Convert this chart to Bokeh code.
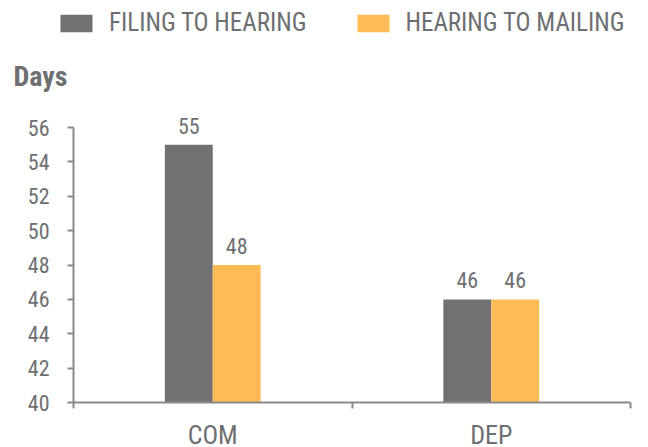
from bokeh.plotting import figure
from bokeh.models import (ColumnDataSource, FixedTicker, LinearAxis, Legend, LegendItem,
                          Range1d, LabelSet, Label)
from bokeh.core.properties import value
from bokeh.transform import dodge
from bokeh.embed import file_html
from bokeh.resources import INLINE

categories = ["COM", "DEP"]
filing_to_hearing = [55, 46]
hearing_to_mailing = [48, 46]
series_names = ["FILING TO HEARING", "HEARING TO MAILING"]
y_ticks = [40, 42, 44, 46, 48, 50, 52, 54, 56]
y_title = "Days"

FONT = "'Roboto Condensed', 'DejaVu Sans Condensed', sans-serif"
TXT = "#6e6f72"
AX = "#8a8a8a"
GREY = "#717174"
ORANGE = "#fdba55"

xpos = [i + 0.5 for i in range(len(categories))]
src = ColumnDataSource(dict(
    x=xpos, cat=categories, base=[y_ticks[0]] * len(categories),
    a=filing_to_hearing, b=hearing_to_mailing,
    a_lbl=[str(v) for v in filing_to_hearing],
    b_lbl=[str(v) for v in hearing_to_mailing],
))
tick_src = ColumnDataSource(dict(y=y_ticks, x=[0] * len(y_ticks), t=[str(v) for v in y_ticks]))

# frame spans nearly the whole canvas; axes are pinned with fixed_location
PX_X = (630 - 73) / len(categories)
PX_Y = (402 - 127) / (y_ticks[-1] - y_ticks[0])
FL, FT, FB = 10, 4, 447
x_rng = Range1d(0 - (73 - FL) / PX_X, len(categories) + (648 - 630) / PX_X)
y_rng = Range1d(y_ticks[0] - (FB - 402) / PX_Y, y_ticks[-1] + (127 - FT) / PX_Y)

p = figure(width=648, height=447, output_backend="svg", toolbar_location=None,
           x_range=x_rng, y_range=y_rng,
           min_border_left=FL, min_border_right=0, min_border_top=FT, min_border_bottom=447 - FB,
           x_axis_type=None, y_axis_type=None)
p.outline_line_color = None
p.xgrid.visible = False
p.ygrid.visible = False

bw = 0.172
r1 = p.vbar(x=dodge("x", -bw / 2, range=p.x_range), top="a", bottom="base", width=bw, source=src,
            fill_color=GREY, line_color=None)
r2 = p.vbar(x=dodge("x", bw / 2, range=p.x_range), top="b", bottom="base", width=bw, source=src,
            fill_color=ORANGE, line_color=None)

for col, lbl, off in (("a", "a_lbl", -bw / 2), ("b", "b_lbl", bw / 2)):
    p.add_layout(LabelSet(x=dodge("x", off, range=p.x_range), y=col, text=lbl, source=src,
                          text_align="center", text_baseline="alphabetic", y_offset=11,
                          text_font=value(FONT), text_font_size=value("22px"), text_color=TXT))

# y axis (pinned at x=0)
yax = LinearAxis(ticker=FixedTicker(ticks=y_ticks), bounds=(y_ticks[0], y_ticks[-1]),
                 fixed_location=0, major_label_overrides={v: "" for v in y_ticks})
yax.axis_line_color = AX
yax.axis_line_width = 2
yax.major_tick_line_color = AX
yax.major_tick_line_width = 2
yax.major_tick_in = 0
yax.major_tick_out = 6
yax.minor_tick_line_color = None
yax.major_label_standoff = 0
yax.major_label_text_font_size = "1px"
p.add_layout(yax, "left")

p.add_layout(LabelSet(x="x", y="y", text="t", source=tick_src, x_offset=-24,
                      text_align="right", text_baseline="middle",
                      text_font=value(FONT), text_font_size=value("22px"), text_color=TXT))

# x axis (pinned at y=40), ticks at category boundaries pointing down
bounds_ticks = list(range(len(categories) + 1))
xax = LinearAxis(ticker=FixedTicker(ticks=bounds_ticks), bounds=(0, len(categories)),
                 fixed_location=y_ticks[0], major_label_overrides={v: "" for v in bounds_ticks})
xax.axis_line_color = AX
xax.axis_line_width = 2
xax.major_tick_line_color = AX
xax.major_tick_line_width = 2
xax.major_tick_in = 6
xax.major_tick_out = 0
xax.minor_tick_line_color = None
xax.major_label_standoff = 0
xax.major_label_text_font_size = "1px"
p.add_layout(xax, "above")

p.add_layout(LabelSet(x="x", y="base", text="cat", source=src, y_offset=-41,
                      text_align="center", text_baseline="alphabetic",
                      text_font=value(FONT), text_font_size=value("26px"), text_color=TXT))

p.add_layout(Label(x=0, y=y_ticks[-1], x_offset=-60, y_offset=51, text=y_title,
                   text_align="left", text_baseline="alphabetic",
                   text_font=FONT, text_font_size="28px", text_font_style="bold",
                   text_color=TXT))

legend = Legend(items=[LegendItem(label=series_names[0], renderers=[r1]),
                       LegendItem(label=series_names[1], renderers=[r2])],
                orientation="horizontal", location=(56 - FL, FB - 37),
                glyph_width=40, glyph_height=22, label_standoff=13, spacing=46,
                label_text_font=FONT, label_text_font_size="25px", label_text_color=TXT,
                label_height=22,
                border_line_color=None, background_fill_alpha=0, padding=0, margin=0)
p.add_layout(legend, "center")

open("out.html", "w").write(file_html(p, INLINE))
